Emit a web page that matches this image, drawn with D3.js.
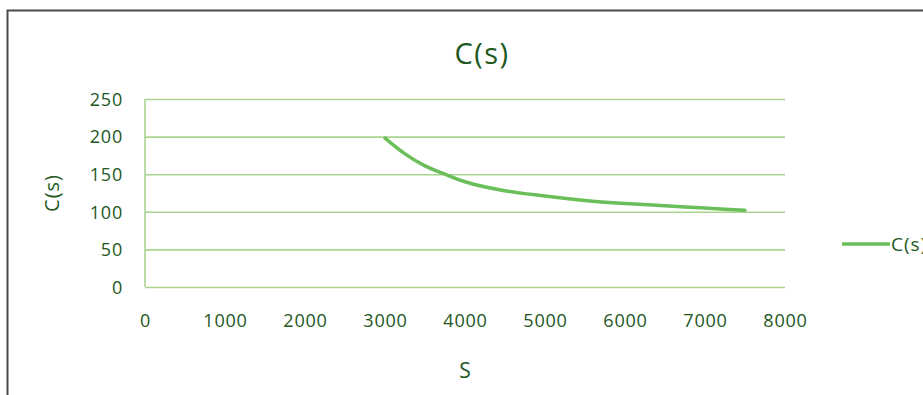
<!DOCTYPE html>
<html>
<head>
<meta charset="utf-8">
<script src="https://cdn.jsdelivr.net/npm/d3@7"></script>
<style>
  html, body { margin: 0; padding: 0; background: #fff; }
  svg { display: block; }
  text { font-family: "Open Sans", "DejaVu Sans", sans-serif; fill: #225722; font-weight: 500; }
</style>
</head>
<body>
<svg id="chart" width="923" height="395"></svg>
<script>
// C(s) as a function of S
const sValues = [3000, 3250, 3500, 3750, 4000, 4500, 5000, 5500, 6000, 6500, 7000, 7500];
const cValues = [198, 177, 161, 150, 140, 128, 121, 115, 111, 108, 105, 102];
const xTicks = [0, 1000, 2000, 3000, 4000, 5000, 6000, 7000, 8000];
const yTicks = [0, 50, 100, 150, 200, 250];
const seriesName = "C(s)";

const points = sValues.map((s, i) => ({ s, c: cValues[i] }));

const svg = d3.select("#chart");
const plot = { left: 145, right: 785, top: 99, bottom: 287 };

const x = d3.scaleLinear().domain([0, 8000]).range([plot.left, plot.right]);
const y = d3.scaleLinear().domain([0, 250]).range([plot.bottom, plot.top]);

const gridColor = "#a9d38f";
const lineColor = "#6abf5a";
const textColor = "#1f531f";

// outer frame (top and left edges visible)
svg.append("path")
  .attr("d", `M7.5,395 V10.5 H923`)
  .attr("fill", "none")
  .attr("stroke", "#4a4a4a")
  .attr("stroke-width", 2);

// horizontal gridlines via the y axis
const yAxis = svg.append("g")
  .attr("transform", `translate(${plot.left},0)`)
  .call(d3.axisLeft(y).tickValues(yTicks).tickSize(-(plot.right - plot.left)).tickPadding(22));
yAxis.select(".domain").remove();
yAxis.selectAll(".tick line").attr("stroke", gridColor).attr("stroke-width", 1.6);
yAxis.selectAll(".tick text")
  .attr("font-size", 18)
  .attr("letter-spacing", 0.8)
  .attr("dy", "0.35em")
  .style("font-family", "'Open Sans', sans-serif")
  .style("font-weight", 500)
  .attr("fill", textColor);

// vertical axis line
svg.append("line")
  .attr("x1", plot.left).attr("x2", plot.left)
  .attr("y1", plot.top).attr("y2", plot.bottom)
  .attr("stroke", gridColor).attr("stroke-width", 1.6);

// x axis labels
const xAxis = svg.append("g")
  .attr("transform", `translate(0,${plot.bottom})`)
  .call(d3.axisBottom(x).tickValues(xTicks).tickSize(0).tickPadding(27).tickFormat(d3.format("d")));
xAxis.select(".domain").remove();
xAxis.selectAll(".tick text")
  .attr("font-size", 18)
  .attr("letter-spacing", 0.8)
  .style("font-family", "'Open Sans', sans-serif")
  .style("font-weight", 500)
  .attr("fill", textColor);

// the curve
const line = d3.line()
  .x(d => x(d.s))
  .y(d => y(d.c))
  .curve(d3.curveMonotoneX);

svg.append("path")
  .datum(points)
  .attr("d", line)
  .attr("fill", "none")
  .attr("stroke", lineColor)
  .attr("stroke-width", 3.5)
  .attr("stroke-linecap", "round");

// titles
svg.append("text")
  .attr("x", 482).attr("y", 64)
  .attr("text-anchor", "middle")
  .attr("font-size", 29)
  .attr("letter-spacing", 1.5)
  .attr("fill", "#1a4a1a")
  .text(seriesName);

svg.append("text")
  .attr("transform", "translate(59,193) rotate(-90)")
  .attr("text-anchor", "middle")
  .attr("font-size", 20)
  .attr("letter-spacing", 1)
  .text(seriesName);

svg.append("text")
  .attr("x", 465).attr("y", 378)
  .attr("text-anchor", "middle")
  .attr("font-size", 21)
  .text("S");

// legend
svg.append("line")
  .attr("x1", 842).attr("x2", 890)
  .attr("y1", 244).attr("y2", 244)
  .attr("stroke", lineColor).attr("stroke-width", 3.5);
svg.append("text")
  .attr("x", 891).attr("y", 251)
  .attr("font-size", 19)
  .attr("letter-spacing", 1)
  .text(seriesName);
</script>
</body>
</html>
